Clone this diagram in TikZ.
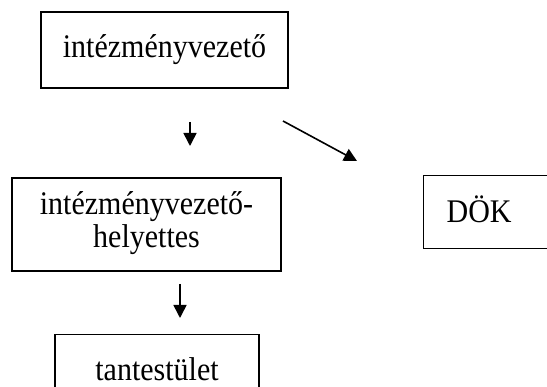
\documentclass[tikz,border=0pt]{standalone}
\usepackage{fontspec}
\setmainfont{Liberation Serif}
\usetikzlibrary{arrows.meta}
\newcommand{\tallt}[1]{\scalebox{1}[1.1]{#1}}
\begin{document}
\begin{tikzpicture}[x=1pt,y=-1pt,
  box/.style={draw=black, line width=1.3pt, rectangle, inner sep=0pt, align=center,
    font=\fontsize{30}{30.5}\selectfont},
  arr/.style={line width=1.6pt, -{Triangle[length=13pt,width=13pt]}}]
\useasboundingbox (0,0) rectangle (547,387);
\clip (0,0) rectangle (547,387);
\node[box, minimum width=247pt, minimum height=76pt] (vez) at (164.5,50) {\raisebox{3pt}{\tallt{intézményvezető}}};
\node[box, minimum width=269pt, minimum height=93pt] (hely) at (146.5,224.5) {\tallt{\begin{tabular}{@{}c@{}}intézményvezető-\\helyettes\end{tabular}}};
\node[box, minimum width=204pt, minimum height=73pt, anchor=north] (tan) at (157,334) {\raisebox{4pt}{\tallt{tantestület}}};
\node[box, anchor=north west, minimum height=73pt, text width=120pt, align=left, inner xsep=23pt] (dok) at (423,175) {\raisebox{6pt}{\tallt{DÖK}}};
\coordinate (a1s) at (190,122);
\coordinate (a1e) at (190,146);
\coordinate (a2s) at (283,121);
\coordinate (a2e) at (357,161);
\coordinate (a3s) at (180,284);
\coordinate (a3e) at (180,318);
\draw[arr] (a1s) -- (a1e);
\draw[arr] (a2s) -- (a2e);
\draw[arr] (a3s) -- (a3e);
\end{tikzpicture}
\end{document}
